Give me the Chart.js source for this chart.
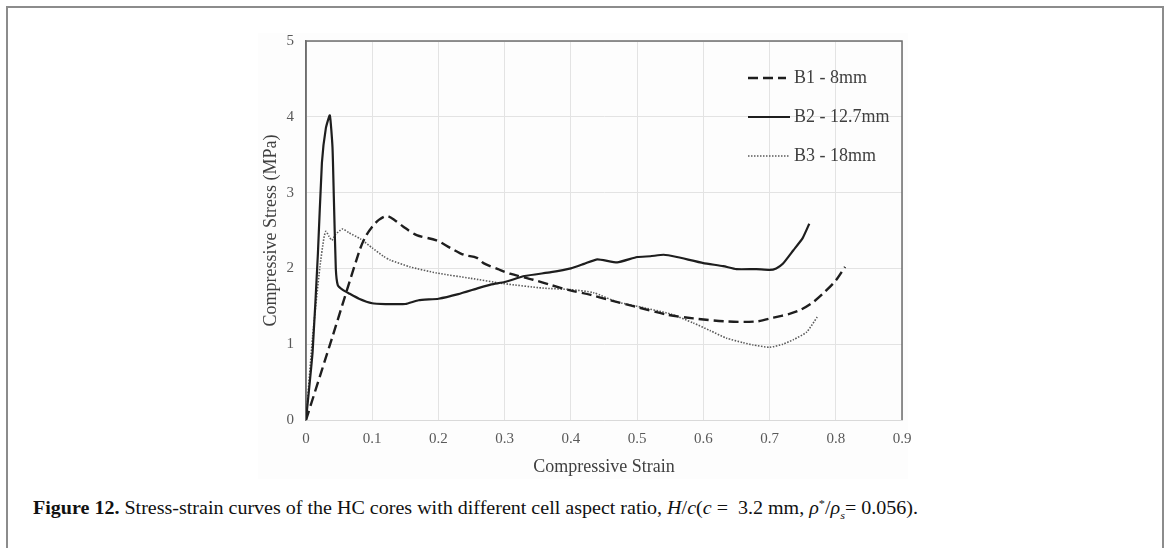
<!DOCTYPE html>
<html>
<head>
<meta charset="utf-8">
<script src="https://cdn.jsdelivr.net/npm/chart.js@4/dist/chart.umd.min.js"></script>
<style>
	html, body { margin: 0; padding: 0; background: #fff; }
	body { width: 1167px; height: 548px; position: relative; overflow: hidden; }
	.frame { position: absolute; left: 6px; top: 6px; width: 1154px; height: 600px;
		border: 2px solid #8c8c8c; border-bottom: none; }
	.plotbg { position: absolute; left: 258px; top: 33px; width: 650px; height: 446px; background: #fdfdfd; }
	.chartbox { position: absolute; left: 0; top: 0; width: 1167px; height: 482px; }
	.caption { position: absolute; left: 33px; top: 497px; font-family: "Liberation Serif", serif;
		font-size: 18px; color: #111; white-space: nowrap; transform-origin: 0 0; }
	.caption b { font-weight: bold; }
	.caption i { font-style: italic; }
</style>
</head>
<body>
<div class="frame"></div>
<div class="plotbg"></div>
<div class="chartbox"><canvas id="stressStrain"></canvas></div>
<div class="caption" id="cap"><b>Figure 12.</b> Stress-strain curves of the HC cores with different cell aspect ratio, <i>H</i>/<i>c</i>(<i>c</i> =&nbsp; 3.2 mm, <i>ρ</i><sup style="font-size:11px">*</sup>/<i>ρ</i><sub style="font-size:11px"><i>s</i></sub>= 0.056).</div>
<script>
// x / y ticks
var xTicks = [0, 0.1, 0.2, 0.3, 0.4, 0.5, 0.6, 0.7, 0.8, 0.9];
var yTicks = [0, 1, 2, 3, 4, 5];

// B1 - 8mm
var b1Strain = [0, 0.04, 0.081, 0.09, 0.1, 0.11, 0.122, 0.135, 0.147, 0.167, 0.197, 0.218, 0.238, 0.258, 0.268, 0.29, 0.308, 0.343, 0.37, 0.399, 0.43, 0.459, 0.5, 0.545, 0.585, 0.635, 0.68, 0.706, 0.73, 0.746, 0.765, 0.781, 0.8, 0.814];
var b1Stress = [0, 1.1, 2.24, 2.42, 2.55, 2.64, 2.69, 2.63, 2.55, 2.44, 2.37, 2.27, 2.18, 2.14, 2.07, 1.99, 1.93, 1.85, 1.78, 1.71, 1.65, 1.58, 1.49, 1.39, 1.34, 1.30, 1.30, 1.35, 1.40, 1.45, 1.55, 1.67, 1.84, 2.02];

// B2 - 12.7mm
var b2Strain = [0, 0.01, 0.018, 0.024, 0.03, 0.036, 0.04, 0.042, 0.045, 0.048, 0.055, 0.065, 0.08, 0.1, 0.12, 0.15, 0.17, 0.2, 0.23, 0.26, 0.28, 0.3, 0.33, 0.37, 0.4, 0.42, 0.44, 0.47, 0.5, 0.52, 0.54, 0.56, 0.6, 0.63, 0.65, 0.68, 0.7, 0.71, 0.72, 0.736, 0.75, 0.76];
var b2Stress = [0, 0.9, 2.2, 3.39, 3.85, 4.02, 3.6, 2.95, 2.0, 1.78, 1.72, 1.67, 1.6, 1.54, 1.53, 1.53, 1.58, 1.6, 1.66, 1.74, 1.79, 1.82, 1.9, 1.95, 2.0, 2.06, 2.12, 2.08, 2.15, 2.16, 2.18, 2.15, 2.07, 2.03, 1.99, 1.99, 1.98, 2.0, 2.06, 2.24, 2.4, 2.59];

// B3 - 18mm
var b3Strain = [0, 0.01, 0.021, 0.027, 0.03, 0.035, 0.039, 0.045, 0.055, 0.065, 0.082, 0.1, 0.117, 0.127, 0.157, 0.197, 0.248, 0.298, 0.358, 0.4, 0.434, 0.469, 0.5, 0.55, 0.585, 0.61, 0.635, 0.66, 0.675, 0.7, 0.72, 0.736, 0.756, 0.772];
var b3Stress = [0, 1.1, 2.02, 2.4, 2.49, 2.42, 2.37, 2.45, 2.52, 2.47, 2.39, 2.27, 2.16, 2.11, 2.02, 1.94, 1.87, 1.8, 1.74, 1.72, 1.68, 1.56, 1.5, 1.4, 1.28, 1.18, 1.08, 1.02, 0.99, 0.96, 1.0, 1.06, 1.16, 1.36];

var seriesNames = ['B1 - 8mm', 'B2 - 12.7mm', 'B3 - 18mm'];

function toPoints(xs, ys) {
	return xs.map(function (x, i) { return { x: x, y: ys[i] }; });
}

// caption stretched to the width it has in the figure
var cap = document.getElementById('cap');
cap.style.transform = 'scaleX(' + (885 / cap.getBoundingClientRect().width) + ')';

// plot border (dark top/left/right, light bottom) + legend inside the plot
var framePlugin = {
	id: 'framePlugin',
	beforeDatasetsDraw: function (chart) {
		var a = chart.chartArea, c = chart.ctx;
		c.save();
		c.strokeStyle = '#6e6e6e';
		c.lineWidth = 1.5;
		c.beginPath();
		c.moveTo(a.left, a.bottom);
		c.lineTo(a.left, a.top);
		c.lineTo(a.right, a.top);
		c.lineTo(a.right, a.bottom);
		c.stroke();
		c.restore();
	},
	afterDraw: function (chart) {
		var c = chart.ctx;
		var rows = [78, 117, 156];
		c.save();
		c.font = '18px "Liberation Serif"';
		c.textBaseline = 'middle';
		chart.data.datasets.forEach(function (ds, i) {
			c.strokeStyle = ds.borderColor;
			c.lineWidth = ds.borderWidth;
			c.setLineDash(ds.borderDash || []);
			c.beginPath();
			c.moveTo(748, rows[i]);
			c.lineTo(i === 0 ? 786 : 790, rows[i]);
			c.stroke();
			c.setLineDash([]);
			c.fillStyle = '#404040';
			c.fillText(ds.label, 794, rows[i]);
		});
		c.restore();
	}
};

var ctx = document.getElementById('stressStrain');
var myChart = new Chart(ctx, {
	type: 'scatter',
	data: {
		datasets: [{
			label: seriesNames[0],
			data: toPoints(b1Strain, b1Stress),
			showLine: true,
			borderColor: '#1e1e1e',
			borderWidth: 2.4,
			borderDash: [10, 5],
			pointRadius: 0,
			tension: 0.3
		}, {
			label: seriesNames[1],
			data: toPoints(b2Strain, b2Stress),
			showLine: true,
			borderColor: '#1e1e1e',
			borderWidth: 2.2,
			pointRadius: 0,
			tension: 0.15
		}, {
			label: seriesNames[2],
			data: toPoints(b3Strain, b3Stress),
			showLine: true,
			borderColor: '#5a5a5a',
			borderWidth: 1.6,
			borderDash: [1.5, 1.5],
			pointRadius: 0,
			tension: 0.2
		}]
	},
	options: {
		responsive: true,
		maintainAspectRatio: false,
		animation: false,
		layout: {
			padding: { left: 256, right: 265, top: 41, bottom: 0 }
		},
		scales: {
			x: {
				type: 'linear',
				min: 0,
				max: 0.9,
				afterBuildTicks: function (s) { s.ticks = xTicks.map(function (v) { return { value: v }; }); },
				afterFit: function (s) { s.height = 62; },
				ticks: {
					padding: 10,
					color: '#595959',
					font: { family: 'Liberation Serif', size: 15 },
					callback: function (v) { return v === 0 ? '0' : v.toFixed(1); }
				},
				grid: { color: '#e3e3e3', lineWidth: 1, drawTicks: false },
				border: { color: '#d9d9d9', width: 1 },
				title: {
					display: true,
					text: 'Compressive Strain',
					color: '#404040',
					font: { family: 'Liberation Serif', size: 18 }
				}
			},
			y: {
				type: 'linear',
				min: 0,
				max: 5,
				afterBuildTicks: function (s) { s.ticks = yTicks.map(function (v) { return { value: v }; }); },
				afterFit: function (s) { s.width = 50; },
				ticks: {
					padding: 12,
					color: '#595959',
					font: { family: 'Liberation Serif', size: 15 }
				},
				grid: { color: '#e3e3e3', lineWidth: 1, drawTicks: false },
				border: { color: '#6e6e6e', width: 1.5 },
				title: {
					display: true,
					text: 'Compressive Stress (MPa)',
					color: '#404040',
					font: { family: 'Liberation Serif', size: 18 }
				}
			}
		},
		plugins: {
			legend: { display: false },
			tooltip: { enabled: false }
		}
	},
	plugins: [framePlugin]
});
</script>
</body>
</html>
